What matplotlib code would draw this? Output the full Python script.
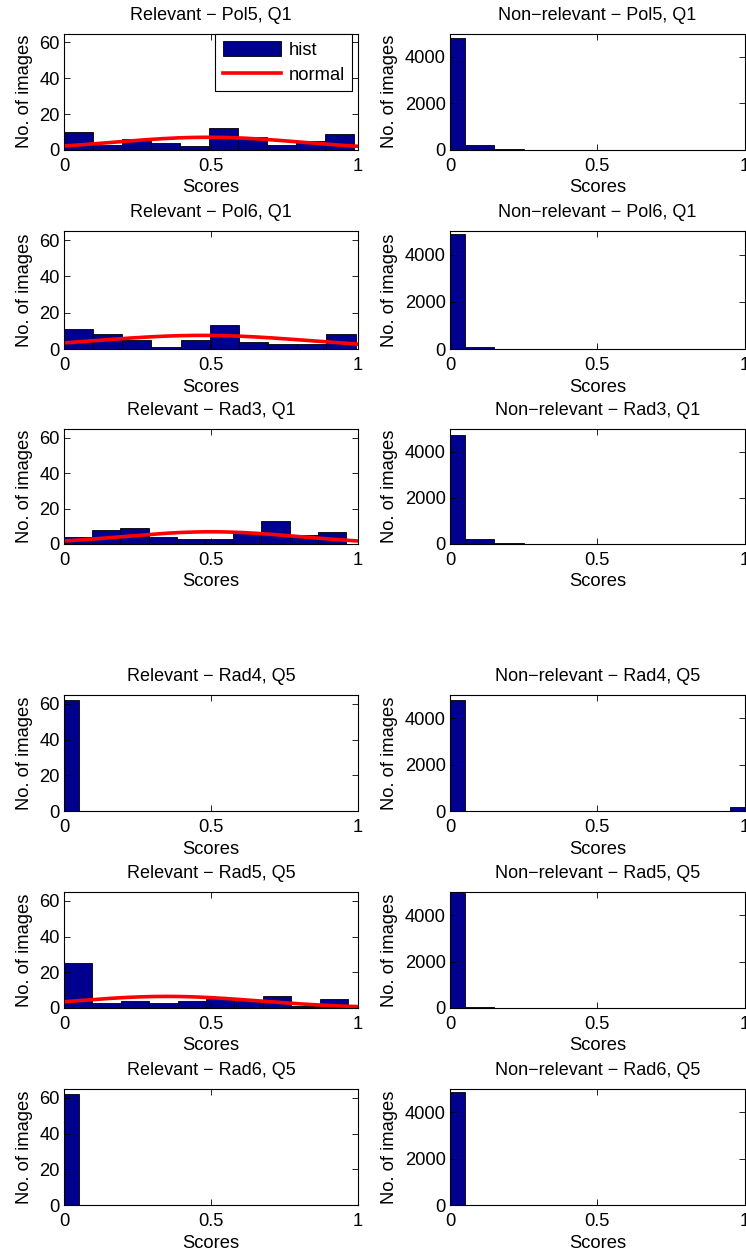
import numpy as np
import matplotlib
matplotlib.use("Agg")
import matplotlib.pyplot as plt
from matplotlib.patches import Patch
from matplotlib.lines import Line2D

# datos
bar_color = "#00008f"
plt.rcParams["font.family"] = ["Liberation Sans", "DejaVu Sans"]
plt.rcParams["font.size"] = 13.2

rel_titles = ["Relevant − Pol5, Q1", "Relevant − Pol6, Q1", "Relevant − Rad3, Q1",
              "Relevant − Rad4, Q5", "Relevant − Rad5, Q5", "Relevant − Rad6, Q5"]
nonrel_titles = ["Non−relevant − Pol5, Q1", "Non−relevant − Pol6, Q1", "Non−relevant − Rad3, Q1",
                 "Non−relevant − Rad4, Q5", "Non−relevant − Rad5, Q5", "Non−relevant − Rad6, Q5"]

# histogramas relevantes con ajuste normal (10 bins desde 0 hasta el máximo)
rel_pol5 = [10, 3, 6, 4, 2, 12, 7, 3, 5, 9]
rel_pol6 = [11, 8, 5, 1, 5, 13, 4, 3, 3, 8]
rel_rad3 = [4, 8, 9, 4, 3, 3, 6, 13, 5, 7]
rel_rad5 = [25, 3, 4, 3, 4, 5, 4, 7, 1, 5]
rel_max = [0.9875, 0.992, 0.959, 0.966]
# parametros del ajuste normal: media, sigma, altura maxima
fit_mu = [0.49, 0.47, 0.50, 0.35]
fit_sigma = [0.323, 0.37, 0.30, 0.315]
fit_peak = [7.1, 7.5, 6.9, 6.5]

# histogramas con centros 0, 0.1, ..., 1
centers = [0.0, 0.1, 0.2, 0.3, 0.4, 0.5, 0.6, 0.7, 0.8, 0.9, 1.0]
rel_rad4 = [62, 0, 0, 0, 0, 0, 0, 0, 0, 0, 0]
rel_rad6 = [62, 0, 0, 0, 0, 0, 0, 0, 0, 0, 0]
non_pol5 = [4790, 235, 30, 5, 3, 2, 2, 1, 1, 1, 2]
non_pol6 = [4860, 90, 10, 3, 2, 2, 1, 1, 1, 1, 2]
non_rad3 = [4730, 200, 30, 5, 3, 2, 2, 1, 1, 1, 2]
non_rad4 = [4770, 2, 1, 1, 1, 1, 1, 1, 1, 1, 190]
non_rad5 = [4970, 30, 3, 2, 1, 1, 1, 1, 1, 1, 2]
non_rad6 = [4890, 5, 2, 1, 1, 1, 1, 1, 1, 1, 20]

# posiciones de filas en pixeles (arriba, abajo)
W, H = 746, 1257
rows_px = [(33.5, 150), (231, 349), (429, 544), (695, 811), (892, 1008), (1089, 1205)]
left_x = (64, 358)
right_x = (450, 744.7)


def style_axes(ax, ymax, yticks):
  ax.set_xlim(0, 1)
  ax.set_ylim(0, ymax)
  ax.set_xticks([0, 0.5, 1])
  ax.set_xticklabels(["0", "0.5", "1"])
  ax.set_yticks(yticks)
  ax.tick_params(direction="in", top=True, right=True, length=4, width=0.6)
  ax.tick_params(axis="x", pad=6)
  ax.tick_params(axis="y", pad=3)
  for s in ax.spines.values():
    s.set_linewidth(0.8)
  ax.set_xlabel("Scores", labelpad=3)
  ax.set_ylabel("No. of images", labelpad=5)


fig = plt.figure(figsize=(W / 100, H / 100), dpi=100)
axes = []
for i, (top, bot) in enumerate(rows_px):
  pair = []
  for xs in (left_x, right_x):
    ax = fig.add_axes([xs[0] / W, 1 - bot / H, (xs[1] - xs[0]) / W, (bot - top) / H])
    pair.append(ax)
  axes.append(pair)

# relevantes con ajuste
fit_rows = [0, 1, 2, 4]
fit_data = [rel_pol5, rel_pol6, rel_rad3, rel_rad5]
for k, r in enumerate(fit_rows):
  ax = axes[r][0]
  counts = fit_data[k]
  edges = np.linspace(0, rel_max[k], len(counts) + 1)
  ax.bar(edges[:-1], counts, width=np.diff(edges), align="edge",
         color=bar_color, edgecolor="black", linewidth=0.6)
  xs = np.linspace(0, 1, 200)
  ys = fit_peak[k] * np.exp(-0.5 * ((xs - fit_mu[k]) / fit_sigma[k]) ** 2)
  ax.plot(xs, ys, color="red", linewidth=2.6)

# relevantes sin ajuste
for r, counts in [(3, rel_rad4), (5, rel_rad6)]:
  axes[r][0].bar(centers, counts, width=0.1, color=bar_color, edgecolor="black", linewidth=0.6)

# no relevantes
for r, counts in enumerate([non_pol5, non_pol6, non_rad3, non_rad4, non_rad5, non_rad6]):
  axes[r][1].bar(centers, counts, width=0.1, color=bar_color, edgecolor="black", linewidth=0.6)

for r in range(6):
  style_axes(axes[r][0], 65, [0, 20, 40, 60])
  axes[r][0].set_title(rel_titles[r], fontsize=13, pad=10)
  style_axes(axes[r][1], 5000, [0, 2000, 4000])
  axes[r][1].set_title(nonrel_titles[r], fontsize=13, pad=10)

handles = [Patch(facecolor=bar_color, edgecolor="black", linewidth=0.6),
           Line2D([], [], color="red", linewidth=2.6)]
leg = axes[0][0].legend(handles, ["hist", "normal"], loc="upper right",
                        bbox_to_anchor=(0.98, 1.0), fancybox=False, edgecolor="black",
                        framealpha=1, borderaxespad=0, handlelength=3.2, handleheight=0.9,
                        borderpad=0.4, labelspacing=0.4, handletextpad=0.4)
leg.get_frame().set_linewidth(0.8)

plt.savefig("out.png", dpi=100)
plt.close()
